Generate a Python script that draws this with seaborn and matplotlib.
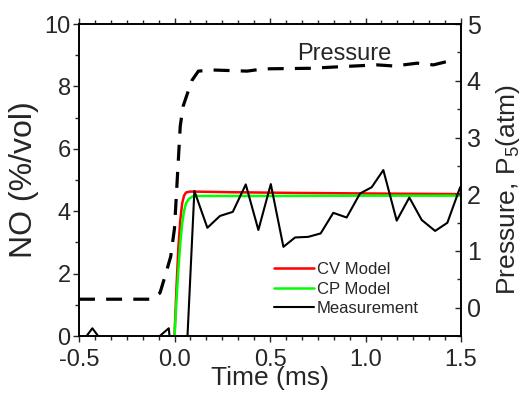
import matplotlib
matplotlib.use("Agg")
import matplotlib.pyplot as plt
from matplotlib.ticker import MultipleLocator, AutoMinorLocator
import seaborn as sns

# NO measurement (%/vol)
t_meas = [-0.497, -0.43, -0.363, -0.297, -0.23, -0.163, -0.097, -0.03, 0.037,
          0.104, 0.172, 0.238, 0.305, 0.373, 0.439, 0.504, 0.570, 0.631, 0.700,
          0.765, 0.831, 0.901, 0.971, 1.032, 1.093, 1.163, 1.229, 1.294, 1.364,
          1.428, 1.495]
no_meas = [-0.3, 0.25, -0.3, -0.2, -0.3, -0.2, -0.1, 0.25, -4.0,
           4.65, 3.47, 3.85, 3.98, 4.86, 3.40, 4.87, 2.86, 3.16, 3.18,
           3.29, 3.95, 3.80, 4.57, 4.77, 5.32, 3.70, 4.44, 3.72, 3.37,
           3.63, 4.77]

# constant volume model
t_cv = [0.0, 0.01, 0.02, 0.03, 0.04, 0.05, 0.06, 0.08, 0.1, 0.3, 0.6, 1.0, 1.5]
no_cv = [0.0, 1.5, 2.8, 3.7, 4.25, 4.5, 4.6, 4.63, 4.63, 4.61, 4.59, 4.57, 4.55]

# constant pressure model
t_cp = [0.0, 0.01, 0.02, 0.03, 0.04, 0.05, 0.06, 0.075, 0.1, 0.5, 1.0, 1.5]
no_cp = [0.0, 1.1, 2.1, 2.95, 3.6, 4.0, 4.25, 4.4, 4.49, 4.49, 4.5, 4.5]

# pressure trace (atm)
t_p = [-0.5, -0.12, -0.076, -0.05, -0.02, 0.0, 0.01, 0.02, 0.03, 0.045, 0.065,
       0.09, 0.125, 0.2, 0.38, 0.465, 0.71, 0.88, 1.06, 1.15, 1.27, 1.355,
       1.44, 1.46]
p5 = [0.15, 0.15, 0.26, 0.55, 0.9, 1.4, 2.0, 2.6, 3.2, 3.55, 3.75,
      4.0, 4.17, 4.19, 4.17, 4.21, 4.22, 4.25, 4.28, 4.26, 4.31, 4.28,
      4.35, 4.36]

x_ticks = [-0.5, 0.0, 0.5, 1.0, 1.5]
x_labels = ['-0.5', '0.0', '0.5', '1.0', '1.5']

sns.set_style("ticks")
plt.rcParams['font.family'] = ['Liberation Sans', 'DejaVu Sans']
plt.rcParams['mathtext.fontset'] = 'custom'
plt.rcParams['mathtext.rm'] = 'Liberation Sans'
plt.rcParams['mathtext.it'] = 'Liberation Sans'

fig = plt.figure(figsize=(5.3, 3.94), dpi=100)
ax = fig.add_axes([0.149, 0.147, 0.721, 0.792])
ax2 = ax.twinx()

sns.lineplot(x=t_cv, y=no_cv, ax=ax, color='#ff0000', lw=1.8,
             label='CV Model', estimator=None)
sns.lineplot(x=t_cp, y=no_cp, ax=ax, color='#00ff00', lw=1.8,
             label='CP Model', estimator=None)
sns.lineplot(x=t_meas, y=no_meas, ax=ax, color='black', lw=1.5,
             label='Measurement', estimator=None)

sns.lineplot(x=t_p, y=p5, ax=ax2, color='black', lw=2.3,
             linestyle=(0, (5, 3.5)), estimator=None)
ax2.text(0.89, 4.47, 'Pressure', fontsize=17, ha='center', va='center')

ax.set_xlim(-0.5, 1.5)
ax.set_ylim(0, 10)
ax2.set_ylim(-0.5, 5)

ax.set_xticks(x_ticks)
ax.set_xticklabels(x_labels)
ax.xaxis.set_minor_locator(AutoMinorLocator(6))
ax.yaxis.set_major_locator(MultipleLocator(2))
ax.yaxis.set_minor_locator(AutoMinorLocator(2))
ax2.yaxis.set_major_locator(MultipleLocator(1))
ax2.yaxis.set_minor_locator(AutoMinorLocator(2))

ax.tick_params(axis='x', which='both', direction='out', top=True,
               labelsize=17, pad=5, width=1)
ax.tick_params(axis='y', which='both', direction='out', labelsize=17,
               pad=2, width=1)
ax.tick_params(which='major', length=4)
ax.tick_params(which='minor', length=3)
ax2.tick_params(axis='y', which='both', direction='in', labelsize=18,
                pad=4, width=1)
ax2.tick_params(which='major', length=4)
ax2.tick_params(which='minor', length=3)

for a in (ax, ax2):
    for s in a.spines.values():
        s.set_visible(True)
        s.set_linewidth(1.2)
        s.set_color('black')

ax.set_xlabel('Time (ms)', fontsize=19, labelpad=-3)
ax.set_ylabel('NO (%/vol)', fontsize=23, labelpad=4)
ax2.set_ylabel('Pressure, P$_5$(atm)', fontsize=19)
ax2.yaxis.set_label_coords(1.085, 0.47)

ax.legend(loc='center left', bbox_to_anchor=(0.472, 0.15), frameon=False,
          fontsize=12, handlelength=2.35, handletextpad=0.2,
          labelspacing=0.27)

fig.savefig('out.png', dpi=100)
